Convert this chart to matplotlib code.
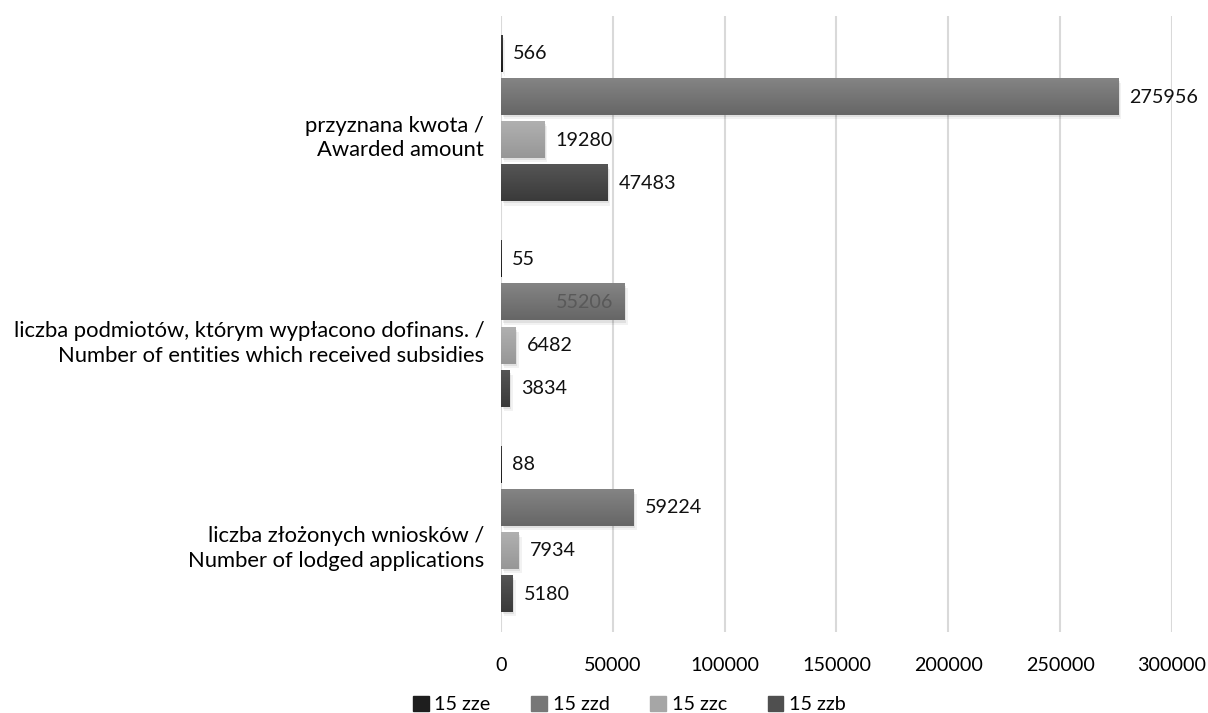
import numpy as np
import matplotlib
matplotlib.use("Agg")
import matplotlib.pyplot as plt
import matplotlib.transforms as mtransforms
from matplotlib.colors import LinearSegmentedColormap
from matplotlib.patches import Patch, Rectangle

plt.rcParams['font.family'] = ['Lato', 'DejaVu Sans']

categories = ["liczba złożonych wniosków /\nNumber of lodged applications",
              "liczba podmiotów, którym wypłacono dofinans. /\nNumber of entities which received subsidies",
              "przyznana kwota /\nAwarded amount"]
series = ["15 zze", "15 zzd", "15 zzc", "15 zzb"]
zze = [88, 55, 566]
zzd = [59224, 55206, 275956]
zzc = [7934, 6482, 19280]
zzb = [5180, 3834, 47483]
values = [zze, zzd, zzc, zzb]

# top, bottom shade of gradient, legend colour
shades = [("#3a3a3a", "#1a1a1a", "#1e1e1e"),
          ("#848484", "#666666", "#777777"),
          ("#b0b0b0", "#979797", "#a6a6a6"),
          ("#555555", "#3a3a3a", "#4f4f4f")]

FS = 15.8   # category labels
NS = 14.2   # numbers / legend

fig = plt.figure(figsize=(12.08, 7.13), dpi=100)
ax = fig.add_axes([0.4147, 0.1136, 0.5555, 0.864])

y = np.arange(len(categories))
pitch = 0.21
h = 0.176
offsets = [1.5 * pitch, 0.5 * pitch, -0.5 * pitch, -1.5 * pitch]

handles = []
for vals, off, (c1, c2, lc), name in zip(values, offsets, shades, series):
    bars = ax.barh(y + off, vals, height=h, color="none", zorder=2)
    handles.append(Patch(color=lc, label=name))
    cmap = LinearSegmentedColormap.from_list(name, [c2, c1])
    for b in bars:
        x0, y0 = b.get_x(), b.get_y()
        w, hh = b.get_width(), b.get_height()
        # soft shadow
        for k, a in [(1, 0.07), (2, 0.05)]:
            ax.add_patch(Rectangle((x0 + 700 * k, y0 - 0.01 * k), w, hh, color="#000000",
                                   alpha=a, zorder=1, lw=0))
        grad = np.linspace(0, 1, 50).reshape(-1, 1)
        ax.imshow(grad, cmap=cmap, aspect="auto", origin="lower",
                  extent=(x0, x0 + w, y0, y0 + hh), zorder=3)
        if name == "15 zzd" and w == 55206:
            ax.annotate(f"{int(w)}", (w, y0 + hh / 2), xytext=(-8, 0),
                        textcoords="offset points", ha="right", va="center",
                        fontsize=NS, color="#595959", zorder=4)
        else:
            ax.annotate(f"{int(w)}", (w, y0 + hh / 2), xytext=(8, 0),
                        textcoords="offset points", ha="left", va="center",
                        fontsize=NS, color="#111111", zorder=4)

ax.set_xlim(0, 300000)
ax.set_ylim(-0.5, 2.5)
ax.set_xticks(np.arange(0, 300001, 50000))
ax.set_xticklabels([str(v) for v in range(0, 300001, 50000)], fontsize=NS)
ax.set_yticks(y)
ax.set_yticklabels(categories, fontsize=FS, ha="right", linespacing=1.3)
ax.tick_params(length=0, pad=12)
ax.tick_params(axis="x", pad=18)
# category labels sit a little below the group centre
shift = mtransforms.ScaledTranslation(0, -0.15, fig.dpi_scale_trans)
for lbl in ax.get_yticklabels():
    lbl.set_transform(lbl.get_transform() + shift)
ax.grid(axis="x", color="#d9d9d9", lw=1.5, zorder=0)
ax.set_axisbelow(True)
for s in ax.spines.values():
    s.set_visible(False)

fig.legend(handles=handles, loc="center", bbox_to_anchor=(0.521, 0.012), ncol=4,
           frameon=False, fontsize=NS, handlelength=0.8, handleheight=0.8,
           handletextpad=0.3, columnspacing=2.05, borderpad=0)

fig.savefig("out.png", dpi=100)
